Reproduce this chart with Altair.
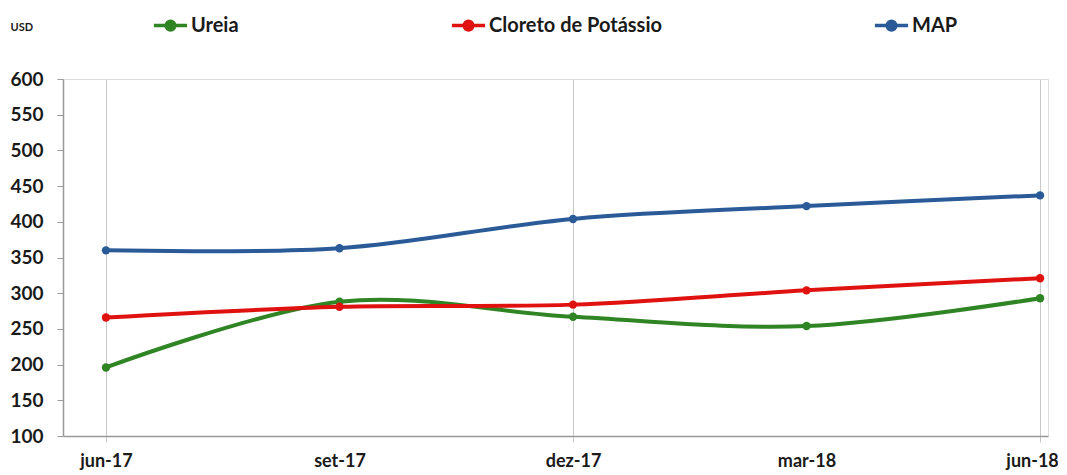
import json
import altair as alt
import pandas as pd

months = ["jun-17", "set-17", "dez-17", "mar-18", "jun-18"]
series = ["Ureia", "Cloreto de Potássio", "MAP"]
ureia = [196, 288, 267, 254, 293]
cloreto = [266, 281, 284, 304, 321]
map_vals = [360, 363, 404, 422, 437]
colors = ["#2f8424", "#e0120f", "#2a5b98"]
y_ticks = [100, 150, 200, 250, 300, 350, 400, 450, 500, 550, 600]

rows = []
for name, vals in zip(series, [ureia, cloreto, map_vals]):
    for i, (m, v) in enumerate(zip(months, vals)):
        rows.append({"idx": i, "month": m, "serie": name, "valor": v})
df = pd.DataFrame(rows)

FONT = "Lato"
label_expr = json.dumps(months) + "[datum.value]"
last_idx = len(months) - 1

x_enc = alt.X(
    "idx:Q",
    scale=alt.Scale(domain=[-0.184, 4.034], nice=False, zero=False),
    axis=alt.Axis(
        values=list(range(len(months))),
        labelExpr=label_expr,
        title=None,
        grid=True,
        gridColor="#c8c8c8",
        gridWidth=1,
        gridOpacity={"condition": {"test": "datum.value % 2 === 0", "value": 1}, "value": 0},
        ticks=True,
        tickSize=6,
        tickColor="#c8c8c8",
        tickOpacity={"condition": {"test": "datum.value % 2 === 0", "value": 1}, "value": 0},
        domainColor="#999999",
        domainWidth=1.5,
        labelFont=FONT,
        labelFontSize=18,
        labelFontWeight="bold",
        labelColor="#1a1a1a",
        labelPadding=10,
        labelFlush=False,
        labelOffset={"condition": {"test": f"datum.value === {last_idx}", "value": -8}, "value": 0},
    ),
)

y_enc = alt.Y(
    "valor:Q",
    scale=alt.Scale(domain=[100, 600], nice=False, zero=False),
    axis=alt.Axis(
        values=y_ticks,
        title="USD",
        titleAngle=0,
        titleAlign="left",
        titleBaseline="middle",
        titleX=-53,
        titleY=-52,
        titleFont=FONT,
        titleFontSize=11,
        titleFontWeight="bold",
        titleColor="#1a1a1a",
        grid=False,
        tickSize=6,
        tickColor="#999999",
        domainColor="#999999",
        domainWidth=1.5,
        labelFont=FONT,
        labelFontSize=19,
        labelFontWeight="bold",
        labelColor="#1a1a1a",
        labelPadding=14,
    ),
)

color_scale = alt.Scale(domain=series, range=colors)
legend = alt.Legend(
    title=None,
    orient="none",
    legendX=89,
    legendY=-72,
    direction="horizontal",
    columns=3,
    columnPadding=205,
    symbolType="M-1,0H1M-0.26,0A0.26,0.26 0 1,0 0.26,0A0.26,0.26 0 1,0 -0.26,0",
    symbolSize=1100,
    symbolStrokeWidth=3.5,
    labelFont=FONT,
    labelFontSize=20,
    labelFontWeight="bold",
    labelColor="#1a1a1a",
    labelOffset=2,
    labelLimit=400,
)

lines = alt.Chart(df).mark_line(interpolate="cardinal", strokeWidth=4).encode(
    x=x_enc,
    y=y_enc,
    color=alt.Color("serie:N", scale=color_scale, legend=legend, sort=series),
)

points = alt.Chart(df).mark_circle(size=70, opacity=1).encode(
    x=x_enc,
    y=y_enc,
    color=alt.Color("serie:N", scale=color_scale, legend=legend, sort=series),
)

chart = alt.layer(lines, points).properties(
    width=985,
    height=357,
    autosize=alt.AutoSizeParams(type="none"),
    padding={"left": 55, "top": 71, "right": 10, "bottom": 40},
).configure_view(stroke=None).configure(background="white")

chart.save("out.html", embed_options={"renderer": "svg", "actions": False})
